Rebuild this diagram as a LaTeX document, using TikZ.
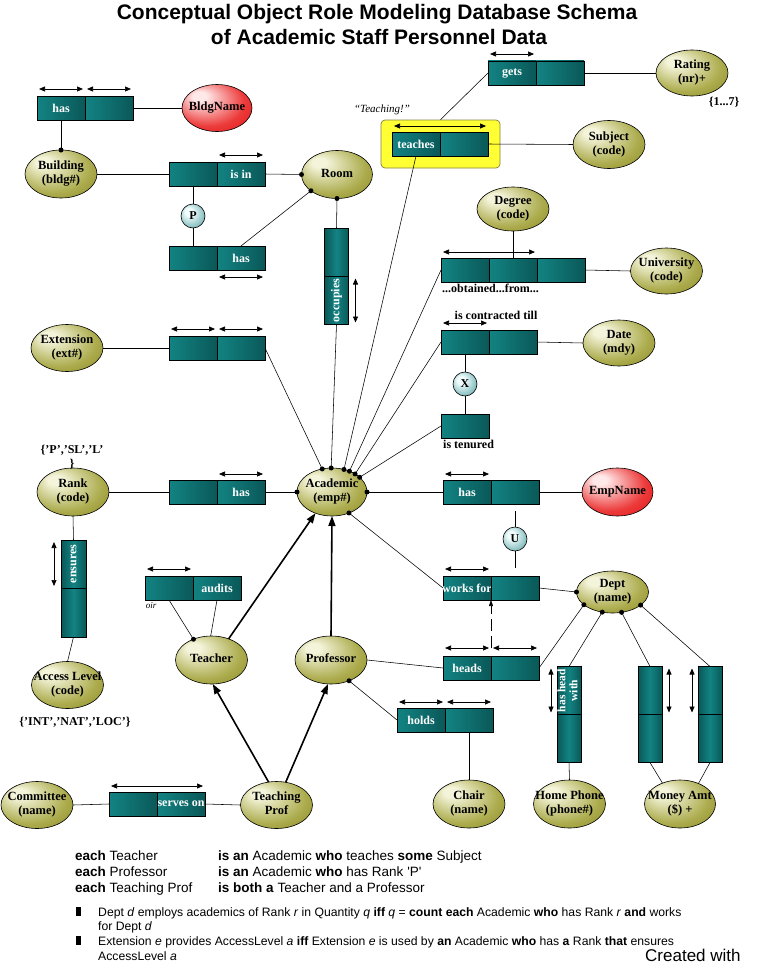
\documentclass[tikz,border=0pt]{standalone}
\usepackage{fontspec}
\setmainfont{Liberation Serif}
\newfontfamily\arialf{Liberation Sans}
\usepackage{graphicx}
\usetikzlibrary{shapes.geometric,arrows.meta}
\definecolor{tealL}{HTML}{138383}
\definecolor{tealD}{HTML}{0A5858}
\definecolor{oliveL}{HTML}{F4F4DA}
\definecolor{oliveM}{HTML}{ADAD50}
\definecolor{oliveD}{HTML}{767608}
\definecolor{redL}{HTML}{FFE8E8}
\definecolor{redM}{HTML}{EC3A3A}
\definecolor{redD}{HTML}{DD0000}
\definecolor{consL}{HTML}{F2FCFC}
\definecolor{consD}{HTML}{2B8A8C}
\definecolor{hiY}{HTML}{FFFF33}
\pgfdeclareradialshading{olivesh}{\pgfpoint{-14bp}{14bp}}{color(0bp)=(oliveL); color(5bp)=(oliveL); color(26bp)=(oliveM); color(48bp)=(oliveD)}
\pgfdeclareradialshading{redsh}{\pgfpoint{-14bp}{14bp}}{color(0bp)=(redL); color(5bp)=(redL); color(26bp)=(redM); color(48bp)=(redD)}
\pgfdeclareradialshading{conssh}{\pgfpoint{-10bp}{10bp}}{color(0bp)=(consL); color(8bp)=(consL); color(45bp)=(consD); color(50bp)=(consD)}
\newcommand\mklbl[1]{\makebox[0pt]{\begin{tabular}{@{}c@{}}#1\end{tabular}}}
\newcommand\cl[1]{\makebox[0pt]{#1}}
\newcommand\vl[1]{\rotatebox{90}{\makebox[0pt]{#1}}}
\begin{document}
\begin{tikzpicture}[x=1pt,y=-1pt,
  ent/.style={ellipse, draw=black, line width=0.6pt, inner sep=0pt, outer sep=0pt, minimum width=72pt, minimum height=48pt, shade, shading=olivesh, font=\bfseries\fontsize{12.5}{14}\selectfont, text=black},
  vent/.style={ent, shading=redsh},
  cell/.style={rectangle, draw=black, line width=0.6pt, inner sep=0pt, outer sep=0pt, minimum width=48pt, minimum height=24pt, left color=tealL, right color=tealD, font=\bfseries\fontsize{12}{14}\selectfont, text=white},
  vcell/.style={cell, minimum width=24pt, minimum height=48pt, left color=tealD, right color=tealD, middle color=tealL},
  cons/.style={circle, draw=black, line width=0.6pt, inner sep=0pt, minimum size=24pt, shade, shading=conssh, font=\bfseries\fontsize{12}{14}\selectfont},
  uc/.style={{Triangle[length=6pt,width=5pt]}-{Triangle[length=6pt,width=5pt]}, line width=0.7pt},
  link/.style={line width=0.55pt},
  sub/.style={-{Triangle[length=10pt,width=7pt]}, line width=1.6pt},
  lbl/.style={font=\bfseries\fontsize{12}{14}\selectfont, inner sep=0pt},
  txt/.style={font=\arialf\fontsize{13.5}{15}\selectfont, inner sep=0pt, anchor=base west},
  txs/.style={font=\arialf\fontsize{12.2}{14}\selectfont, inner sep=0pt, anchor=base west},
]
\fill[white] (0,0) rectangle (772,966);
\useasboundingbox (0,0) rectangle (772,966);

% title
\node[font=\arialf\bfseries\fontsize{21}{25}\selectfont, anchor=base, inner sep=0pt] (t1) at (377,20) {Conceptual Object Role Modeling Database Schema};
\node[font=\arialf\bfseries\fontsize{21}{25}\selectfont, anchor=base, inner sep=0pt] (t2) at (379,45) {of Academic Staff Personnel Data};

% highlight
\node[draw=black!55!yellow, fill=hiY, rounded corners=4pt, minimum width=119pt, minimum height=48pt, inner sep=0pt, line width=0.7pt] (hilite) at (440.5,144) {};

% entities
\node[vent, minimum width=70pt, minimum height=47pt] (bldgname) at (217,108) {\mklbl{BldgName}};
\node[ent] (building) at (61,174) {\mklbl{Building\\(bldg\#)}};
\node[ent, minimum width=71pt] (room) at (337,174.5) {\mklbl{Room}};
\node[ent, minimum height=46pt] (rating) at (692,73) {\mklbl{Rating\\(nr)+}};
\node[ent] (subject) at (609,144.5) {\mklbl{Subject\\(code)}};
\node[ent, minimum height=44pt] (degree) at (513,209) {\mklbl{Degree\\(code)}};
\node[ent, minimum height=46pt] (university) at (666.5,271) {\mklbl{University\\(code)}};
\node[ent, minimum height=47pt] (extension) at (67,348) {\mklbl{Extension\\(ext\#)}};
\node[ent, minimum height=46pt] (date) at (619,343) {\mklbl{Date\\(mdy)}};
\node[ent] (rank) at (73,492) {\mklbl{Rank\\(code)}};
\node[ent, minimum width=70pt] (academic) at (332,492) {\mklbl{Academic\\(emp\#)}};
\node[vent, minimum width=71pt] (empname) at (617.5,492) {\mklbl{EmpName}};
\node[ent] (teacher) at (211.5,660) {\mklbl{Teacher}};
\node[ent] (professor) at (331,660) {\mklbl{Professor}};
\node[ent, minimum height=42pt] (dept) at (612.5,592) {\mklbl{Dept\\(name)}};
\node[ent, minimum height=47pt] (access) at (67.5,685) {\mklbl{Access Level\\(code)}};
\node[ent, minimum height=47pt] (committee) at (37,805) {\mklbl{Committee\\(name)}};
\node[ent, minimum height=47pt] (tprof) at (276.5,805) {\mklbl{Teaching\\Prof}};
\node[ent] (chair) at (469,804) {\mklbl{Chair\\(name)}};
\node[ent] (phone) at (569.5,804) {\mklbl{Home Phone\\(phone\#)}};
\node[ent, minimum width=71pt] (money) at (680,804) {\mklbl{Money Amt\\(\$) +}};

% role boxes
\node[cell] (bn1) at (61,108) {\cl{has}};
\node[cell] (bn2) at (109,108) {};
\node[cell] (isin1) at (193,174) {};
\node[cell] (isin2) at (241,174) {\cl{is in}};
\node[cell] (rh1) at (193,258) {};
\node[cell] (rh2) at (241,258) {\cl{has}};
\node[vcell] (occ1) at (336.5,252.5) {};
\node[vcell] (occ2) at (336.5,300.5) {\vl{occupies}};
\node[cell] (gets1) at (512,73) {\cl{gets}};
\node[cell] (gets2) at (560,73) {};
\node[cell] (teach1) at (416,144) {\cl{teaches}};
\node[cell] (teach2) at (464,144) {};
\node[cell] (ob1) at (465,270) {};
\node[cell] (ob2) at (513,270) {};
\node[cell] (ob3) at (561,270) {};
\node[cell] (ct1) at (465,342) {};
\node[cell] (ct2) at (513,342) {};
\node[cell] (ten) at (465,426) {};
\node[cell] (ext1) at (193,348) {};
\node[cell] (ext2) at (241,348) {};
\node[cell] (rk1) at (193,492) {};
\node[cell] (rk2) at (241,492) {\cl{has}};
\node[cell] (en1) at (467,492) {\cl{has}};
\node[cell] (en2) at (515,492) {};
\node[cell] (wf1) at (467,588) {\cl{works for}};
\node[cell] (wf2) at (515,588) {};
\node[cell] (hd1) at (467,668) {\cl{heads}};
\node[cell] (hd2) at (515,668) {};
\node[cell] (hl1) at (421,720) {\cl{holds}};
\node[cell] (hl2) at (469,720) {};
\node[vcell, minimum width=25pt] (ens1) at (73.5,564) {\vl{ensures}};
\node[vcell, minimum width=25pt, minimum height=49pt] (ens2) at (73.5,612.5) {};
\node[cell] (au1) at (169,588) {};
\node[cell] (au2) at (217,588) {\cl{audits}};
\node[cell] (so1) at (133,804) {};
\node[cell] (so2) at (181,804) {\cl{serves on}};
\node[vcell] (hhw1) at (569,690.5) {\rotatebox{90}{\makebox[0pt]{\fontsize{11.5}{12}\selectfont\begin{tabular}{@{}c@{}}has head\\with\end{tabular}}}};
\node[vcell] (hhw2) at (569,738.5) {};
\node[vcell] (ma1) at (650,690.5) {};
\node[vcell] (ma2) at (650,738.5) {};
\node[vcell] (mb1) at (710,690.5) {};
\node[vcell] (mb2) at (710,738.5) {};

% constraints
\node[cons] (cP) at (193,216) {P};
\node[cons] (cX) at (465,384) {X};
\node[cons] (cU) at (515,539) {U};

% connectors
\draw[link] (bn2.east) -- (bldgname.west);
\draw[link] (bn1.south) -- (building.north);
\draw[link] (building.east) -- (isin1.west);
\draw[link] (isin2.east) -- (room.west);
\draw[link] (isin1.south) -- (cP.north);
\draw[link] (cP.south) -- (rh1.north);
\draw[link] (rh2.north) -- (room.-148);
\draw[link] (room.south) -- (occ1.north);
\draw[link] (occ2.south) -- (academic.92);
\draw[link] (extension.east) -- (ext1.west);
\draw[link] (ext2.east) -- (academic.113);
\draw[link] (teach1.south) -- (academic.62);
\draw[link] (ob1.west) -- (academic.50);
\draw[link] (ct1.west) -- (academic.38);
\draw[link] (ten.west) -- (academic.28);
\draw[link] (hilite.north) -- (gets1.west);
\draw[link] (gets2.east) -- (rating.west);
\draw[link] (teach2.east) -- (subject.west);
\draw[link] (degree.south) -- (ob2.north);
\draw[link] (ob3.east) -- (university.west);
\draw[link] (ct2.east) -- (date.west);
\draw[link] (ct1.south) -- (cX.north);
\draw[link] (cX.south) -- (ten.north);
\draw[link] (rank.east) -- (rk1.west);
\draw[link] (rk2.east) -- (academic.west);
\draw[link] (academic.east) -- (en1.west);
\draw[link] (en2.east) -- (empname.west);
\draw[link] ([yshift=-7pt]en2.south) -- (cU.north);
\draw[link] (cU.south) -- ([yshift=8pt]wf2.north);
\draw[link] (academic.-51) -- (wf1.west);
\draw[link] (wf2.east) -- (dept.west);
\draw[link, dash pattern=on 12pt off 5pt, -{Triangle[length=6pt,width=4pt]}] ([yshift=8pt]hd1.north east) -- (wf1.south east);
\draw[link] (professor.east) -- (hd1.west);
\draw[link] (hd2.east) -- (dept.-156);
\draw[link] (professor.-49) -- (hl1.west);
\draw[link] (hl2.south) -- (chair.north);
\draw[link] (hhw1.north) -- (dept.-117);
\draw[link] (hhw2.south) -- (phone.north);
\draw[link] (ma1.north) -- (dept.-66);
\draw[link] (ma2.south) -- (money.130);
\draw[link] (mb1.north) -- (dept.-25);
\draw[link] (mb2.south) -- (money.48);
\draw[link] (au1.south) -- (teacher.131);
\draw[link] (au2.south) -- (teacher.92);
\draw[link] (committee.east) -- (so1.west);
\draw[link] (so2.east) -- (tprof.west);
\draw[link] (rank.south) -- (ens1.north);
\draw[link] (ens2.south) -- (access.north);

% subtype arrows
\draw[sub] (tprof.109) -- (teacher.-87);
\draw[sub] (tprof.68) -- (professor.-97);
\draw[sub] (teacher.51) -- (academic.-128);
\draw[sub] (professor.north) -- (academic.south);

% role dots
\foreach \p in {building.north, room.west, room.-148, room.south, academic.92, academic.113, academic.62, academic.50, academic.38, academic.28, academic.west, academic.east, academic.-51, dept.west, dept.-156, dept.-117, dept.-66, dept.-25, teacher.131, professor.-49}
  \fill (\p) circle[radius=2.5pt];

% uniqueness bars
\draw[uc] ([shift={(2pt,7pt)}]bn1.north west) -- ([shift={(-2pt,7pt)}]bn1.north east);
\draw[uc] ([shift={(2pt,7pt)}]bn2.north west) -- ([shift={(-2pt,7pt)}]bn2.north east);
\draw[uc] ([shift={(2pt,7pt)}]isin2.north west) -- ([shift={(-2pt,7pt)}]isin2.north east);
\draw[uc] ([shift={(2pt,-7pt)}]rh2.south west) -- ([shift={(-2pt,-7pt)}]rh2.south east);
\draw[uc] ([shift={(7pt,-2pt)}]occ2.north east) -- ([shift={(7pt,2pt)}]occ2.south east);
\draw[uc] ([shift={(2pt,7pt)}]gets1.north west) -- ([shift={(-2pt,7pt)}]gets1.north east);
\draw[uc] ([shift={(2pt,6pt)}]teach1.north west) -- ([shift={(-2pt,6pt)}]teach2.north east);
\draw[uc] ([shift={(2pt,6pt)}]ob1.north west) -- ([shift={(-2pt,6pt)}]ob2.north east);
\draw[uc] ([shift={(2pt,7pt)}]ct1.north west) -- ([shift={(-2pt,7pt)}]ct1.north east);
\draw[uc] ([shift={(2pt,7pt)}]ext1.north west) -- ([shift={(-2pt,7pt)}]ext1.north east);
\draw[uc] ([shift={(2pt,7pt)}]ext2.north west) -- ([shift={(-2pt,7pt)}]ext2.north east);
\draw[uc] ([shift={(2pt,6pt)}]rk2.north west) -- ([shift={(-2pt,6pt)}]rk2.north east);
\draw[uc] ([shift={(2pt,6pt)}]en1.north west) -- ([shift={(-2pt,6pt)}]en1.north east);
\draw[uc] ([shift={(2pt,7pt)}]wf1.north west) -- ([shift={(-2pt,7pt)}]wf1.north east);
\draw[uc] ([shift={(2pt,8pt)}]hd1.north west) -- ([shift={(-2pt,8pt)}]hd1.north east);
\draw[uc] ([shift={(2pt,8pt)}]hd2.north west) -- ([shift={(-2pt,8pt)}]hd2.north east);
\draw[uc] ([shift={(2pt,6pt)}]hl1.north west) -- ([shift={(-2pt,6pt)}]hl1.north east);
\draw[uc] ([shift={(2pt,6pt)}]hl2.north west) -- ([shift={(-2pt,6pt)}]hl2.north east);
\draw[uc] ([shift={(-7pt,-2pt)}]ens1.north west) -- ([shift={(-7pt,2pt)}]ens1.south west);
\draw[uc] ([shift={(2pt,7pt)}]au1.north west) -- ([shift={(-2pt,7pt)}]au1.north east);
\draw[uc] ([shift={(2pt,6pt)}]so1.north west) -- ([shift={(-2pt,6pt)}]so2.north east);
\draw[uc] ([shift={(-6pt,-2pt)}]hhw1.north west) -- ([shift={(-6pt,2pt)}]hhw1.south west);
\draw[uc] ([shift={(7pt,-2pt)}]ma1.north east) -- ([shift={(7pt,2pt)}]ma1.south east);
\draw[uc] ([shift={(-6pt,-2pt)}]mb1.north west) -- ([shift={(-6pt,2pt)}]mb1.south west);

% annotations
\node[font=\itshape\fontsize{11}{13}\selectfont, inner sep=0pt] (teachq) at (382,110) {``Teaching!''};
\node[lbl] (r17) at (724,102) {\{1...7\}};
\node[lbl, anchor=west] (obt) at (442,288) {...obtained...from...};
\node[lbl] (ctl) at (496,315) {is contracted till};
\node[lbl, anchor=west] (tenl) at (443,444) {is tenured};
\node[lbl, align=center] (rankv) at (72,457) {\{'P','SL','L'\\\}};
\node[lbl] (accv) at (75,722) {\{'INT','NAT','LOC'\}};
\node[font=\itshape\fontsize{9}{10}\selectfont, inner sep=0pt] (oir) at (151,606) {oir};

% bottom text
\node[txt] (e1a) at (75,860) {\textbf{each} Teacher};
\node[txt] (e1b) at (218,860) {\textbf{is an} Academic \textbf{who} teaches \textbf{some} Subject};
\node[txt] (e2a) at (75,876) {\textbf{each} Professor};
\node[txt] (e2b) at (218,876) {\textbf{is an} Academic \textbf{who} has Rank 'P'};
\node[txt] (e3a) at (75,892) {\textbf{each} Teaching Prof};
\node[txt] (e3b) at (218,892) {\textbf{is both a} Teacher and a Professor};
\fill (76,907) rectangle (81,916);
\fill (76,936) rectangle (81,945);
\node[txs] (b1) at (98,916.5) {Dept \textit{d} employs academics of Rank \textit{r} in Quantity \textit{q} \textbf{iff} \textit{q} = \textbf{count each} Academic \textbf{who} has Rank \textit{r} \textbf{and} works};
\node[txs] (b1b) at (98,930.5) {for Dept \textit{d}};
\node[txs] (b2) at (98,945.5) {Extension \textit{e} provides AccessLevel \textit{a} \textbf{iff} Extension \textit{e} is used by \textbf{an} Academic \textbf{who} has \textbf{a} Rank \textbf{that} ensures};
\node[txs] (b2b) at (98,960) {AccessLevel \textit{a}};
\node[font=\arialf\fontsize{17}{19}\selectfont, inner sep=0pt, anchor=base west] (cw) at (645,961) {Created with};
\end{tikzpicture}
\end{document}
